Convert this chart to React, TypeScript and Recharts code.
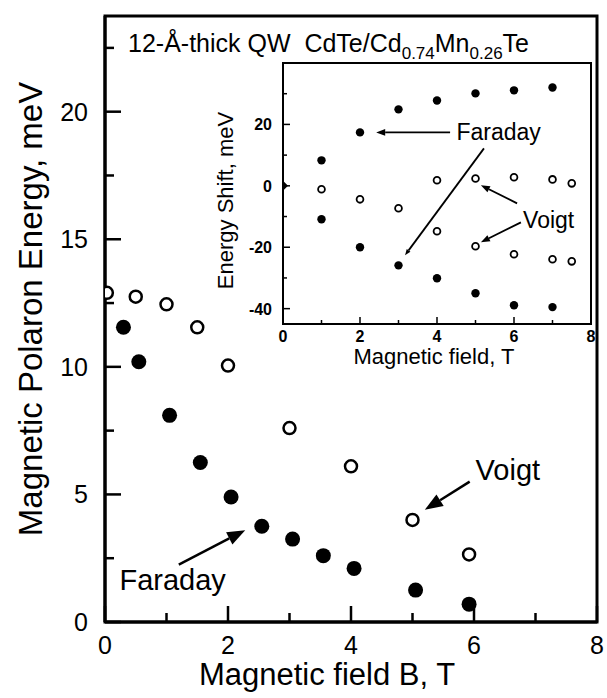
import React from "react";
import {
  ScatterChart,
  Scatter,
  XAxis,
  YAxis,
  ReferenceArea,
  ReferenceLine,
  ReferenceDot,
} from "recharts";

const FONT = '"Liberation Sans", Arial, Helvetica, sans-serif';

// main panel: magnetic polaron energy vs field
const voigtB = [0.03, 0.5, 1.0, 1.5, 2.0, 3.0, 4.0, 5.0, 5.92];
const voigtEnergy = [12.9, 12.75, 12.45, 11.55, 10.05, 7.6, 6.1, 4.0, 2.65];
const faradayB = [0.3, 0.55, 1.05, 1.55, 2.05, 2.55, 3.05, 3.55, 4.05, 5.05, 5.92];
const faradayEnergy = [11.55, 10.2, 8.1, 6.25, 4.9, 3.75, 3.25, 2.6, 2.1, 1.25, 0.7];

const mainBTicks = [0, 1, 2, 3, 4, 5, 6, 7, 8];
const mainETicks = [0, 2.5, 5, 7.5, 10, 12.5, 15, 17.5, 20, 22.5];
const mainBMax = 8;
const mainEMax = 23.75;

// inset: energy shift of the split lines
const insetB = [1, 2, 3, 4, 5, 6, 7];
const faradayUpper = [8.3, 17.4, 24.9, 27.8, 30.1, 31.1, 32.0];
const faradayLower = [-10.9, -20.0, -25.9, -30.1, -35.0, -38.9, -39.5];
const voigtUpperB = [1, 2, 3, 4, 5, 6, 7, 7.5];
const voigtUpper = [-1.1, -4.4, -7.3, 1.8, 2.4, 2.8, 2.1, 0.8];
const voigtLowerB = [4, 5, 6, 7, 7.5];
const voigtLower = [-14.8, -19.7, -22.3, -23.9, -24.6];
const zeroFieldB = [0];
const zeroFieldShift = [0];

const insetBTicks = [0, 1, 2, 3, 4, 5, 6, 7, 8];
const insetShiftTicks = [-40, -30, -20, -10, 0, 10, 20, 30];
const insetBMax = 8;
const insetShiftMin = -45;
const insetShiftMax = 40;

// callouts: text position and arrow (from -> to), in data units
const mainCallouts = [
  { text: "Voigt", at: [6.55, 5.95], from: [5.93, 5.5], to: [5.2, 4.4] },
  { text: "Faraday", at: [1.1, 1.65], from: [1.2, 2.25], to: [2.28, 3.6] },
];
const insetLabels = [
  { text: "Faraday", at: [5.6, 17.4] },
  { text: "Voigt", at: [6.9, -11.2] },
];
const insetArrows = [
  { from: [4.34, 17.4], to: [2.42, 17.4] },
  { from: [5.22, 12.2], to: [3.17, -22.6] },
  { from: [6.08, -5.7], to: [5.14, 0.2] },
  { from: [6.18, -11.9], to: [5.14, -18.4] },
];

const zip = (xs: number[], ys: number[]) => xs.map((x, i) => ({ x, y: ys[i] }));

type TickSpec = {
  gap: number;
  every: number;
  long: number;
  short: number;
  size: number;
  weight: number | string;
  offset: number;
  stroke: number;
};

const mainXSpec: TickSpec = { gap: 14, every: 2, long: 16, short: 9, size: 25, weight: "normal", offset: 18, stroke: 2.5 };
const mainYSpec: TickSpec = { gap: 17, every: 5, long: 16, short: 9, size: 25, weight: "normal", offset: 9, stroke: 2.5 };
const insetXSpec: TickSpec = { gap: 6, every: 2, long: 7, short: 4, size: 16, weight: "bold", offset: 12, stroke: 1.5 };
const insetYSpec: TickSpec = { gap: 11, every: 20, long: 7, short: 4, size: 16, weight: "bold", offset: 6, stroke: 1.5 };

// ticks point into the plot; only major ones carry a number
function BottomTick(props: any) {
  const { x, y, payload, spec } = props;
  const s: TickSpec = spec;
  const v = payload.value;
  const major = Math.abs(v % s.every) < 1e-9;
  const base = y - s.gap;
  return (
    <g>
      <line x1={x} x2={x} y1={base} y2={base - (major ? s.long : s.short)} stroke="#000" strokeWidth={s.stroke} />
      {major && (
        <text x={x} y={y + s.offset} textAnchor="middle" fontSize={s.size} fontWeight={s.weight} fontFamily={FONT} fill="#000">
          {v}
        </text>
      )}
    </g>
  );
}

function LeftTick(props: any) {
  const { x, y, payload, spec } = props;
  const s: TickSpec = spec;
  const v = payload.value;
  const major = Math.abs(v % s.every) < 1e-9;
  const base = x + s.gap;
  return (
    <g>
      <line x1={base} x2={base + (major ? s.long : s.short)} y1={y} y2={y} stroke="#000" strokeWidth={s.stroke} />
      {major && (
        <text x={x} y={y + s.offset} textAnchor="end" fontSize={s.size} fontWeight={s.weight} fontFamily={FONT} fill="#000">
          {v}
        </text>
      )}
    </g>
  );
}

function Arrow(props: any) {
  const { x1, y1, x2, y2, head, width } = props;
  const dx = x2 - x1;
  const dy = y2 - y1;
  const len = Math.hypot(dx, dy) || 1;
  const ux = dx / len;
  const uy = dy / len;
  const bx = x2 - ux * head;
  const by = y2 - uy * head;
  const hw = head * 0.38;
  const pts = `${x2},${y2} ${bx - uy * hw},${by + ux * hw} ${bx + uy * hw},${by - ux * hw}`;
  return (
    <g>
      <line x1={x1} y1={y1} x2={head > 0 ? bx : x2} y2={head > 0 ? by : y2} stroke="#000" strokeWidth={width} />
      {head > 0 && <polygon points={pts} fill="#000" />}
    </g>
  );
}

const filledDot = (r: number) => (p: any) => <circle cx={p.cx} cy={p.cy} r={r} fill="#000" />;
const openDot = (r: number, w: number) => (p: any) => (
  <circle cx={p.cx} cy={p.cy} r={r} fill="#fff" stroke="#000" strokeWidth={w} />
);
const diamond = (r: number) => (p: any) => (
  <polygon points={`${p.cx},${p.cy - r} ${p.cx + r},${p.cy} ${p.cx},${p.cy + r} ${p.cx - r},${p.cy}`} fill="#000" />
);

const textMark = (text: string, size: number) => (p: any) => (
  <text x={p.cx} y={p.cy} textAnchor="middle" dominantBaseline="central" fontSize={size} fontFamily={FONT} fill="#000">
    {text}
  </text>
);

const verticalTitle = (text: string, size: number, dx: number, dy: number) => (p: any) => {
  const { x, y, height } = p.viewBox;
  const cx = x + dx;
  const cy = y + height / 2 + dy;
  return (
    <text x={cx} y={cy} transform={`rotate(-90 ${cx} ${cy})`} textAnchor="middle" dominantBaseline="central" fontSize={size} fontFamily={FONT} fill="#000">
      {text}
    </text>
  );
};

const bottomTitle = (text: string, size: number, dx: number, dy: number) => (p: any) => {
  const { x, y, width } = p.viewBox;
  return (
    <text x={x + width / 2 + dx} y={y + dy} textAnchor="middle" fontSize={size} fontFamily={FONT} fill="#000">
      {text}
    </text>
  );
};

// sample description written just under the top of the frame
const sampleTitle = (p: any) => {
  const { x, y } = p.viewBox;
  return (
    <text x={x + 23} y={y + 36} fontSize={25} fontFamily={FONT} fill="#000">
      {"12-Å-thick QW\u00A0 CdTe/Cd"}
      <tspan dy={7} fontSize={17}>0.74</tspan>
      <tspan dy={-7}>Mn</tspan>
      <tspan dy={7} fontSize={17}>0.26</tspan>
      <tspan dy={-7}>Te</tspan>
    </text>
  );
};

// the frame box: a reference area over the full domain, stroked only
const frameShape = (width: number) => (p: any) => (
  <rect x={p.x} y={p.y} width={p.width} height={p.height} fill="none" stroke="#000" strokeWidth={width} />
);

function MainPanel() {
  return (
    <ScatterChart width={607} height={698} margin={{ top: 16, right: 10, bottom: 0, left: 0 }}>
      <XAxis
        type="number"
        dataKey="x"
        domain={[0, mainBMax]}
        ticks={mainBTicks}
        interval={0}
        height={76}
        tickSize={0}
        tickMargin={14}
        tickLine={false}
        axisLine={{ stroke: "#000", strokeWidth: 3 }}
        tick={<BottomTick spec={mainXSpec} />}
        label={bottomTitle("Magnetic field B, T", 31, -24, 63)}
        allowDataOverflow
      />
      <YAxis
        type="number"
        dataKey="y"
        domain={[0, mainEMax]}
        ticks={mainETicks}
        interval={0}
        width={105}
        tickSize={0}
        tickMargin={17}
        tickLine={false}
        axisLine={{ stroke: "#000", strokeWidth: 3 }}
        tick={<LeftTick spec={mainYSpec} />}
        label={verticalTitle("Magnetic Polaron Energy, meV", 33, 30, -10)}
        allowDataOverflow
      />
      <ReferenceArea
        x1={0}
        x2={mainBMax}
        y1={0}
        y2={mainEMax}
        shape={frameShape(3)}
        ifOverflow="visible"
        label={sampleTitle}
      />
      {mainCallouts.map((c) => (
        <ReferenceLine
          key={"a" + c.text}
          segment={[
            { x: c.from[0], y: c.from[1] },
            { x: c.to[0], y: c.to[1] },
          ]}
          shape={(p: any) => <Arrow {...p} head={18} width={2.5} />}
        />
      ))}
      {mainCallouts.map((c) => (
        <ReferenceDot key={"t" + c.text} x={c.at[0]} y={c.at[1]} r={1} shape={textMark(c.text, 29)} />
      ))}
      <Scatter data={zip(voigtB, voigtEnergy)} shape={openDot(6, 2.5)} isAnimationActive={false} />
      <Scatter data={zip(faradayB, faradayEnergy)} shape={filledDot(7.5)} isAnimationActive={false} />
    </ScatterChart>
  );
}

function InsetPanel() {
  return (
    <ScatterChart width={410} height={332} margin={{ top: 9, right: 9, bottom: 0, left: 0 }}>
      <XAxis
        type="number"
        dataKey="x"
        domain={[0, insetBMax]}
        ticks={insetBTicks}
        interval={0}
        height={62}
        tickSize={0}
        tickMargin={6}
        tickLine={false}
        axisLine={{ stroke: "#000", strokeWidth: 2 }}
        tick={<BottomTick spec={insetXSpec} />}
        label={bottomTitle("Magnetic field, T", 22, -3, 40)}
        allowDataOverflow
      />
      <YAxis
        type="number"
        dataKey="y"
        domain={[insetShiftMin, insetShiftMax]}
        ticks={insetShiftTicks}
        interval={0}
        width={93}
        tickSize={0}
        tickMargin={11}
        tickLine={false}
        axisLine={{ stroke: "#000", strokeWidth: 2 }}
        tick={<LeftTick spec={insetYSpec} />}
        label={verticalTitle("Energy Shift, meV", 22, 35, 7)}
        allowDataOverflow
      />
      <ReferenceArea
        x1={0}
        x2={insetBMax}
        y1={insetShiftMin}
        y2={insetShiftMax}
        shape={frameShape(2)}
        ifOverflow="visible"
      />
      {insetArrows.map((a, i) => (
        <ReferenceLine
          key={"ia" + i}
          segment={[
            { x: a.from[0], y: a.from[1] },
            { x: a.to[0], y: a.to[1] },
          ]}
          shape={(p: any) => <Arrow {...p} head={i === 1 ? 6 : 9} width={1.8} />}
        />
      ))}
      {insetLabels.map((l) => (
        <ReferenceDot key={"il" + l.text} x={l.at[0]} y={l.at[1]} r={1} shape={textMark(l.text, 23)} />
      ))}
      <Scatter data={zip(insetB, faradayUpper)} shape={filledDot(4.2)} isAnimationActive={false} />
      <Scatter data={zip(insetB, faradayLower)} shape={filledDot(4.2)} isAnimationActive={false} />
      <Scatter data={zip(voigtUpperB, voigtUpper)} shape={openDot(3.4, 1.8)} isAnimationActive={false} />
      <Scatter data={zip(voigtLowerB, voigtLower)} shape={openDot(3.4, 1.8)} isAnimationActive={false} />
      <Scatter data={zip(zeroFieldB, zeroFieldShift)} shape={diamond(5)} isAnimationActive={false} />
    </ScatterChart>
  );
}

export default function App() {
  return (
    <div style={{ position: "absolute", left: 0, top: 0, width: 607, height: 698, background: "#fff", fontFamily: FONT }}>
      <MainPanel />
      <div style={{ position: "absolute", left: 190, top: 54 }}>
        <InsetPanel />
      </div>
    </div>
  );
}
